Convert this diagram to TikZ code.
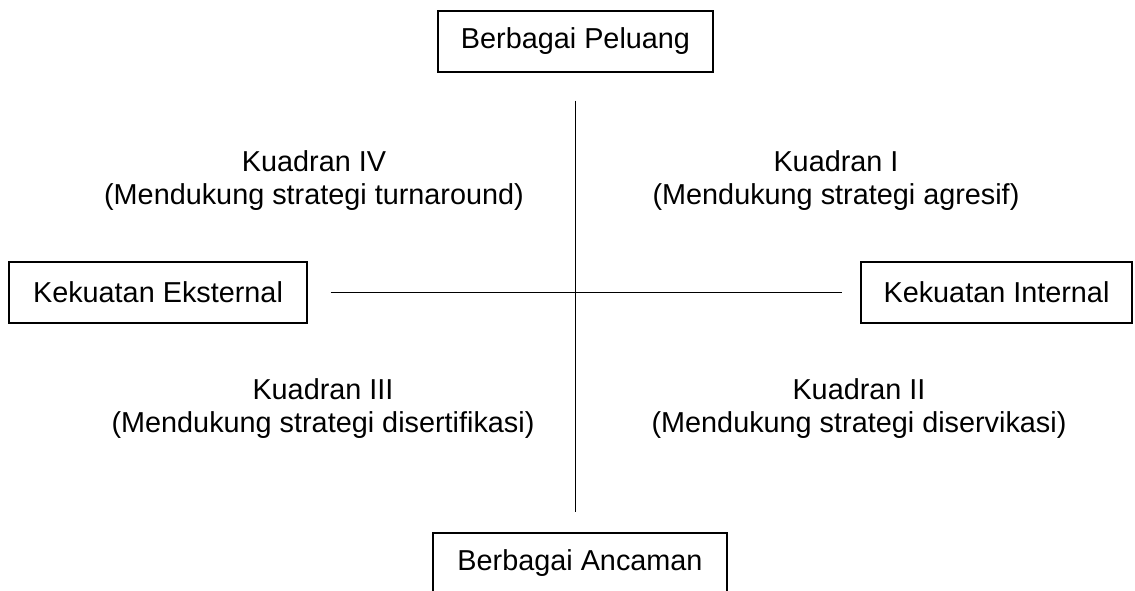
\documentclass[tikz,border=0pt]{standalone}
\usepackage{fontspec}
\setmainfont{Liberation Sans}
\usetikzlibrary{positioning}

\begin{document}
\begin{tikzpicture}[font=\fontsize{16.4}{19}\selectfont,
  kotak/.style={draw, line width=0.6pt, inner sep=0pt, minimum height=1.22cm},
  garis/.style={line width=0.6pt},
  teks/.style={anchor=base, inner sep=0pt}]
\useasboundingbox (-11.54,-5.84) rectangle (11.16,5.98);
\clip (-11.54,-5.84) rectangle (11.16,5.98);
\node[kotak, minimum width=5.5cm] (peluang) at (-0.03,5.15) {Berbagai Peluang};
\node[kotak, minimum width=5.88cm] (ancaman) at (0.06,-5.29) {Berbagai Ancaman};
\node[kotak, minimum width=5.96cm] (eksternal) at (-8.38,0.13) {Kekuatan Eksternal};
\node[kotak, minimum width=5.42cm] (internal) at (8.39,0.13) {Kekuatan Internal};
\draw[garis, shorten <=0.56cm, shorten >=0.4cm] (peluang.south) -- (peluang.south |- ancaman.north);
\draw[garis, shorten <=0.46cm, shorten >=0.36cm] (eksternal.east) -- (eksternal.east -| internal.west);
\node[teks] (k1) at (5.18,2.54) {Kuadran I};
\node[teks] (k1b) at (5.18,1.88) {(Mendukung strategi agresif)};
\node[teks] (k4) at (-5.26,2.54) {Kuadran IV};
\node[teks] (k4b) at (-5.26,1.88) {(Mendukung strategi turnaround)};
\node[teks] (k3) at (-5.08,-2.02) {Kuadran III};
\node[teks] (k3b) at (-5.08,-2.68) {(Mendukung strategi disertifikasi)};
\node[teks] (k2) at (5.64,-2.02) {Kuadran II};
\node[teks] (k2b) at (5.64,-2.68) {(Mendukung strategi diservikasi)};
\end{tikzpicture}
\end{document}
